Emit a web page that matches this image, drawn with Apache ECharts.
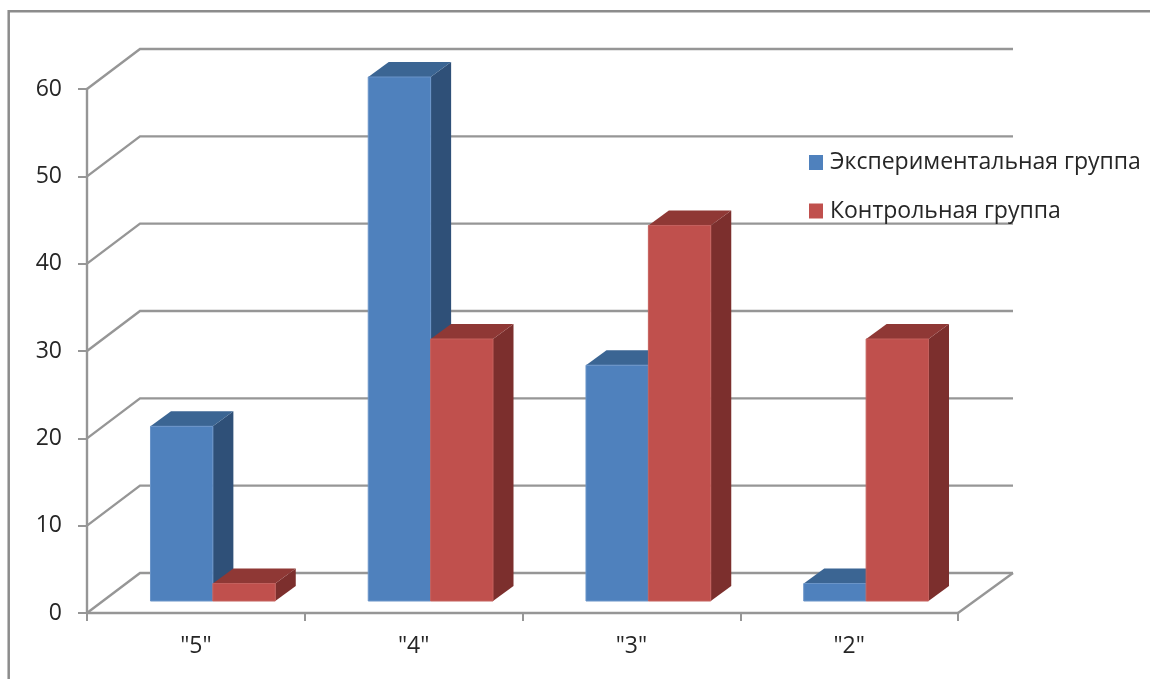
<!DOCTYPE html>
<html>
<head>
<meta charset="utf-8">
<style>
  html, body { margin: 0; padding: 0; background: #fff; }
  #chart { width: 1150px; height: 679px; }
</style>
<script src="https://cdn.jsdelivr.net/npm/echarts@6/dist/echarts.min.js"></script>
</head>
<body>
<div id="chart"></div>
<script>
  var categories = ['"5"', '"4"', '"3"', '"2"'];
  var groupExp = [20, 60, 27, 2];
  var groupCtl = [2, 30, 43, 30];
  var yTicks = [0, 10, 20, 30, 40, 50, 60];

  var nameExp = 'Экспериментальная группа';
  var nameCtl = 'Контрольная группа';

  var lineColor = '#969696';
  var textColor = '#262626';
  var fontName = '"Open Sans", sans-serif';

  /** Wall: diagonal from the axis to the back, then the back line */
  function renderWall(params, api) {
    var sys = params.coordSys;
    var y = api.coord([0, api.value(1)])[1];
    var children = [{
      type: 'polyline',
      shape: { points: [[sys.x, y], [sys.x + 53, y - 40], [sys.x + sys.width + 55, y - 40]] },
      style: { stroke: lineColor, lineWidth: 2.4, fill: null }
    }];
    if (api.value(1) === 0) {
      children.push({
        type: 'line',
        shape: { x1: sys.x + sys.width, y1: y, x2: sys.x + sys.width + 55, y2: y - 40 },
        style: { stroke: lineColor, lineWidth: 2.4 }
      });
    }
    return { type: 'group', children: children };
  }

  /** 3D bar: front, top and side faces */
  function barRenderer(slot, front, top, side, edge) {
    return function(params, api) {
      var band = api.size([1, 0])[0];
      var w = band * 0.2865;
      var base = api.coord([api.value(0), 0]);
      var head = api.coord([api.value(0), api.value(1)]);
      var x0 = base[0] + 17 + (slot - 1) * w;
      var x1 = x0 + w;
      var y0 = base[1] - 12;
      var y1 = head[1] - 12;
      var dx = 20.5;
      var dy = -15;
      return {
        type: 'group',
        children: [{
          type: 'polygon',
          shape: { points: [[x1, y1], [x1 + dx, y1 + dy], [x1 + dx, y0 + dy], [x1, y0]] },
          style: { fill: side }
        }, {
          type: 'polygon',
          shape: { points: [[x0, y1], [x0 + dx, y1 + dy], [x1 + dx, y1 + dy], [x1, y1]] },
          style: { fill: top }
        }, {
          type: 'rect',
          shape: { x: x0, y: y1, width: w, height: y0 - y1 },
          style: { fill: front, stroke: edge, lineWidth: 1 }
        }]
      };
    };
  }

  function toData(values) {
    return values.map(function(v, i) { return [i, v]; });
  }

  var option = {
    animation: false,
    backgroundColor: '#fff',
    grid: { left: 87, right: 192, top: 89, bottom: 66 },
    graphic: [{
      type: 'polyline',
      silent: true,
      shape: { points: [[8.7, 679], [8.7, 11.3], [1150, 11.3]] },
      style: { stroke: '#8c8c8c', lineWidth: 2.5, fill: null }
    }],
    legend: {
      data: [nameExp, nameCtl],
      orient: 'vertical',
      left: 804,
      top: 146,
      icon: 'rect',
      itemWidth: 14,
      itemHeight: 15,
      itemGap: 25.5,
      textStyle: { color: textColor, fontFamily: fontName, fontSize: 23, padding: [0, 0, 0, 2] }
    },
    xAxis: {
      type: 'category',
      data: categories,
      axisLine: { lineStyle: { color: lineColor, width: 2.4 } },
      axisTick: { show: true, length: 8, lineStyle: { color: lineColor, width: 2 } },
      axisLabel: { color: textColor, fontFamily: fontName, fontSize: 23, margin: 22 },
      splitLine: { show: false }
    },
    yAxis: {
      type: 'value',
      min: 0,
      max: 60,
      interval: 10,
      axisLine: { show: true, lineStyle: { color: lineColor, width: 2.4 } },
      axisTick: { show: true, length: 9, lineStyle: { color: lineColor, width: 2 } },
      axisLabel: { color: textColor, fontFamily: fontName, fontSize: 23, margin: 25 },
      splitLine: { show: false }
    },
    series: [{
      type: 'custom',
      silent: true,
      renderItem: renderWall,
      encode: { x: 0, y: 1 },
      data: yTicks.map(function(t) { return [0, t]; }),
      z: 1
    }, {
      name: nameExp,
      type: 'custom',
      renderItem: barRenderer(0, '#4f81bd', '#3b6593', '#2f5078', '#6a94c8'),
      itemStyle: { color: '#4f81bd' },
      encode: { x: 0, y: 1 },
      data: toData(groupExp),
      z: 3
    }, {
      name: nameCtl,
      type: 'custom',
      renderItem: barRenderer(1, '#c0504d', '#8f3835', '#7c2f2d', '#c4605d'),
      itemStyle: { color: '#c0504d' },
      encode: { x: 0, y: 1 },
      data: toData(groupCtl),
      z: 4
    }]
  };

  echarts.init(document.getElementById('chart')).setOption(option);
</script>
</body>
</html>
